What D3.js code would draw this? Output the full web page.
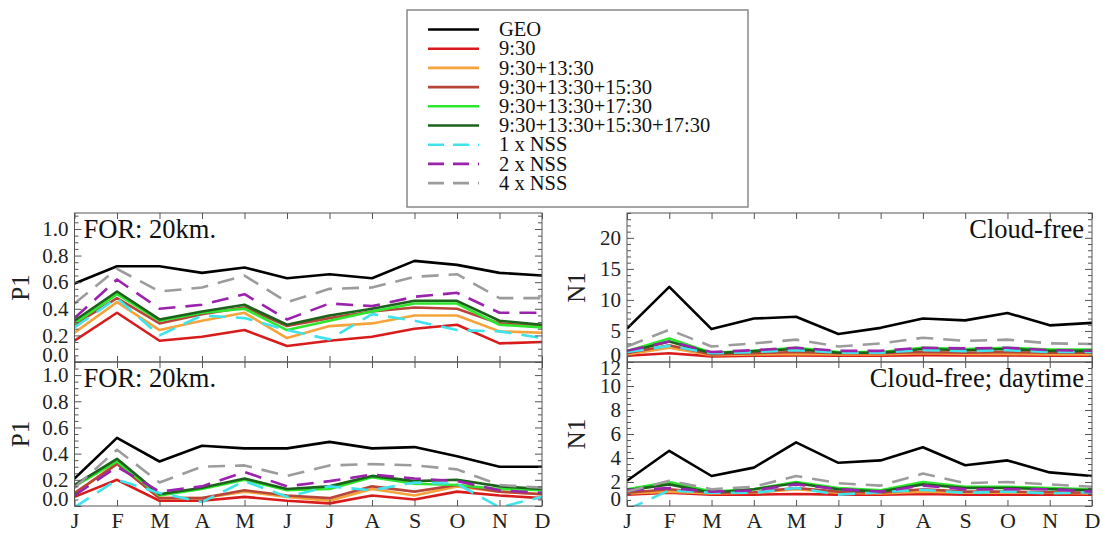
<!DOCTYPE html>
<html>
<head>
<meta charset="utf-8">
<script src="https://cdn.jsdelivr.net/npm/d3@7"></script>
<style>
  body { margin: 0; background: #fff; }
  svg { display: block; }
  svg text { font-family: "Liberation Serif", "DejaVu Serif", serif !important; }
</style>
</head>
<body>
<div id="chart"></div>
<script>
const months = ["J", "F", "M", "A", "M", "J", "J", "A", "S", "O", "N", "D"];
const seriesNames = ["GEO", "9:30", "9:30+13:30", "9:30+13:30+15:30", "9:30+13:30+17:30",
    "9:30+13:30+15:30+17:30", "1 x NSS", "2 x NSS", "4 x NSS"];

// P1, FOR 20km (top left)
const p1All = [
    [0.59, 0.72, 0.72, 0.67, 0.71, 0.63, 0.66, 0.63, 0.76, 0.73, 0.67, 0.65],
    [0.16, 0.37, 0.16, 0.19, 0.24, 0.12, 0.16, 0.19, 0.25, 0.28, 0.14, 0.15],
    [0.22, 0.45, 0.24, 0.31, 0.37, 0.18, 0.27, 0.29, 0.35, 0.35, 0.23, 0.22],
    [0.28, 0.48, 0.29, 0.36, 0.41, 0.27, 0.33, 0.38, 0.41, 0.40, 0.29, 0.27],
    [0.29, 0.51, 0.31, 0.37, 0.40, 0.24, 0.31, 0.38, 0.44, 0.44, 0.28, 0.26],
    [0.31, 0.53, 0.32, 0.38, 0.43, 0.28, 0.35, 0.40, 0.46, 0.46, 0.31, 0.28],
    [0.26, 0.48, 0.20, 0.35, 0.33, 0.24, 0.17, 0.36, 0.31, 0.24, 0.23, 0.18],
    [0.33, 0.62, 0.40, 0.43, 0.51, 0.32, 0.44, 0.42, 0.49, 0.52, 0.37, 0.37],
    [0.44, 0.70, 0.53, 0.56, 0.65, 0.45, 0.55, 0.56, 0.64, 0.66, 0.48, 0.48]
];

// P1, FOR 20km (bottom left)
const p1Day = [
    [0.21, 0.52, 0.34, 0.46, 0.44, 0.44, 0.49, 0.44, 0.45, 0.38, 0.30, 0.30],
    [0.07, 0.20, 0.04, 0.04, 0.07, 0.04, 0.02, 0.08, 0.05, 0.11, 0.08, 0.06],
    [0.09, 0.33, 0.06, 0.06, 0.11, 0.07, 0.04, 0.13, 0.08, 0.15, 0.11, 0.09],
    [0.10, 0.32, 0.06, 0.06, 0.12, 0.08, 0.06, 0.15, 0.11, 0.16, 0.11, 0.09],
    [0.15, 0.34, 0.08, 0.13, 0.20, 0.12, 0.13, 0.22, 0.17, 0.16, 0.13, 0.12],
    [0.16, 0.36, 0.09, 0.14, 0.21, 0.13, 0.15, 0.23, 0.19, 0.20, 0.15, 0.13],
    [-0.01, 0.20, 0.10, 0.03, 0.19, 0.07, 0.15, 0.12, 0.18, 0.17, -0.01, 0.07],
    [0.08, 0.30, 0.11, 0.15, 0.26, 0.15, 0.19, 0.24, 0.21, 0.19, 0.12, 0.10],
    [0.14, 0.43, 0.18, 0.30, 0.31, 0.23, 0.31, 0.32, 0.31, 0.28, 0.16, 0.14]
];

// N1, cloud-free (top right)
const n1All = [
    [5.4, 12.1, 5.3, 7.0, 7.3, 4.5, 5.5, 7.0, 6.7, 7.9, 5.9, 6.3],
    [1.0, 1.4, 0.9, 1.0, 1.05, 1.0, 1.0, 1.1, 1.05, 1.05, 1.0, 1.0],
    [1.2, 2.3, 1.1, 1.2, 1.3, 1.2, 1.2, 1.4, 1.3, 1.3, 1.2, 1.2],
    [1.4, 2.7, 1.2, 1.4, 1.6, 1.4, 1.4, 1.6, 1.5, 1.6, 1.5, 1.5],
    [1.75, 3.8, 1.5, 1.8, 2.3, 1.6, 1.6, 2.3, 2.1, 2.3, 2.0, 2.0],
    [1.6, 3.3, 1.4, 1.75, 2.1, 1.5, 1.5, 2.1, 1.9, 2.1, 1.8, 1.8],
    [1.6, 2.6, 1.4, 1.6, 1.9, 1.5, 1.5, 1.9, 1.75, 1.9, 1.6, 1.6],
    [1.8, 3.3, 1.6, 1.9, 2.3, 1.8, 1.8, 2.3, 2.2, 2.3, 1.9, 1.8],
    [2.5, 5.2, 2.5, 3.0, 3.6, 2.5, 3.0, 3.9, 3.4, 3.6, 3.0, 2.9]
];

// N1, cloud-free daytime (bottom right)
const n1Day = [
    [2.1, 4.6, 2.5, 3.2, 5.3, 3.6, 3.8, 4.9, 3.4, 3.8, 2.8, 2.5],
    [0.95, 1.1, 0.95, 0.95, 1.0, 0.95, 0.95, 1.0, 0.95, 0.95, 0.95, 0.95],
    [1.05, 1.2, 1.05, 1.1, 1.4, 1.1, 1.05, 1.2, 1.1, 1.1, 1.1, 1.05],
    [1.1, 1.4, 1.1, 1.15, 1.5, 1.2, 1.1, 1.4, 1.2, 1.2, 1.15, 1.1],
    [1.4, 2.0, 1.2, 1.4, 2.0, 1.5, 1.3, 2.0, 1.6, 1.6, 1.5, 1.4],
    [1.3, 1.8, 1.1, 1.4, 1.9, 1.4, 1.2, 1.8, 1.5, 1.5, 1.4, 1.3],
    [-0.3, 1.3, 1.1, 1.1, 1.5, 0.95, 1.15, 1.35, 1.1, 1.2, 1.05, 1.15],
    [1.3, 1.5, 1.2, 1.3, 1.8, 1.4, 1.2, 1.7, 1.4, 1.4, 1.4, 1.2],
    [1.2, 2.1, 1.4, 1.6, 2.5, 1.9, 1.7, 2.7, 1.9, 2.0, 1.8, 1.6]
];

const p1Ticks = [0, 0.2, 0.4, 0.6, 0.8, 1.0];
const n1AllTicks = [0, 5, 10, 15, 20];
const n1DayTicks = [0, 2, 4, 6, 8, 10, 12];

// line styles, in the same order as seriesNames
const colors = ["#000000", "#d81c1c", "#f5a33a", "#b8453a", "#2fe62f", "#1b621b", "#40e3ec", "#9b22ad", "#9c9c9c"];
const dashed = [false, false, false, false, false, false, true, true, true];

document.addEventListener("DOMContentLoaded", function () {
    const width = 1103, height = 535;
    const serif = '"Liberation Serif", "DejaVu Serif", serif';

    const svg = d3.select("#chart").append("svg")
        .attr("width", width)
        .attr("height", height)
        .attr("font-family", serif);

    const panels = [
        { id: "tl", data: p1All, x0: 74.5, x1: 542, y0: 213, y1: 362, domain: [0, 1.12], ticks: p1Ticks, minor: 0.05,
          fmt: d3.format(".1f"), title: "FOR: 20km.", anchor: "start", ylab: "P1", ylabX: 21, months: false },
        { id: "bl", data: p1Day, x0: 74.5, x1: 542, y0: 362, y1: 506, domain: [0, 1.1], ticks: p1Ticks, minor: 0.05,
          fmt: d3.format(".1f"), title: "FOR: 20km.", anchor: "start", ylab: "P1", ylabX: 21, months: true },
        { id: "tr", data: n1All, x0: 627, x1: 1092, y0: 213, y1: 362, domain: [0, 24], ticks: n1AllTicks, minor: 1,
          fmt: d3.format("d"), title: "Cloud-free", anchor: "end", ylab: "N1", ylabX: 577, months: false },
        { id: "br", data: n1Day, x0: 627, x1: 1092, y0: 362, y1: 506, domain: [0, 12], ticks: n1DayTicks, minor: 0.5,
          fmt: d3.format("d"), title: "Cloud-free; daytime", anchor: "end", ylab: "N1", ylabX: 577, months: true }
    ];

    panels.forEach(p => {
        const x = d3.scaleLinear().domain([0, 11]).range([p.x0, p.x1]);
        const y = d3.scaleLinear().domain(p.domain).range([p.y1, p.y0]);
        const minorTicks = d3.range(p.domain[0], p.domain[1] + 1e-9, p.minor)
            .filter(v => !p.ticks.some(t => Math.abs(t - v) < 1e-9));

        const g = svg.append("g").attr("class", "panel-" + p.id);

        g.append("clipPath").attr("id", "clip-" + p.id)
            .append("rect")
            .attr("x", p.x0).attr("y", p.y0)
            .attr("width", p.x1 - p.x0).attr("height", p.y1 - p.y0);

        // lines
        const line = d3.line().x((d, i) => x(i)).y(d => y(d));
        g.append("g").attr("clip-path", `url(#clip-${p.id})`)
            .selectAll("path")
            .data(p.data)
            .enter()
            .append("path")
            .attr("d", line)
            .attr("fill", "none")
            .attr("stroke", (d, i) => colors[i])
            .attr("stroke-width", 2.6)
            .attr("stroke-linejoin", "round")
            .attr("stroke-dasharray", (d, i) => dashed[i] ? "17,10" : null);

        // y axis left, major + labels (edge labels pushed inside the frame)
        const clampY = v => Math.min(Math.max(y(v), p.y0 + 6), p.y1 - 7) - y(v);
        const yl = g.append("g").attr("transform", `translate(${p.x0},0)`)
            .call(d3.axisLeft(y).tickValues(p.ticks).tickSize(-7).tickPadding(6).tickFormat(p.fmt));
        yl.selectAll("text").attr("y", d => clampY(d))
            .style("font-family", serif).style("font-size", "21px").attr("fill", "#222");
        g.append("g").attr("transform", `translate(${p.x0},0)`)
            .call(d3.axisLeft(y).tickValues(minorTicks).tickSize(-4).tickFormat(""));

        // y axis right
        g.append("g").attr("transform", `translate(${p.x1},0)`)
            .call(d3.axisRight(y).tickValues(p.ticks).tickSize(-7).tickFormat(""));
        g.append("g").attr("transform", `translate(${p.x1},0)`)
            .call(d3.axisRight(y).tickValues(minorTicks).tickSize(-4).tickFormat(""));

        // x axes
        const xb = g.append("g").attr("transform", `translate(0,${p.y1})`)
            .call(d3.axisBottom(x).tickValues(d3.range(12)).tickSize(-6).tickPadding(6)
                .tickFormat(i => p.months ? months[i] : ""));
        xb.selectAll("text").style("font-family", serif).style("font-size", "22px").attr("fill", "#222");
        g.append("g").attr("transform", `translate(0,${p.y0})`)
            .call(d3.axisTop(x).tickValues(d3.range(12)).tickSize(-6).tickFormat(""));

        g.selectAll(".domain").remove();
        g.selectAll(".tick line").attr("stroke", "#555");

        // frame
        g.append("rect")
            .attr("x", p.x0).attr("y", p.y0)
            .attr("width", p.x1 - p.x0).attr("height", p.y1 - p.y0)
            .attr("fill", "none")
            .attr("stroke", "#555")
            .attr("stroke-width", 1);

        // panel title
        g.append("text")
            .attr("x", p.anchor === "start" ? p.x0 + 9 : p.x1 - 8)
            .attr("y", p.y0 + 25)
            .attr("text-anchor", p.anchor)
            .style("font-size", "26.5px")
            .attr("fill", "#111")
            .text(p.title);

        // y label
        g.append("text")
            .attr("transform", `translate(${p.ylabX + 8},${(p.y0 + p.y1) / 2}) rotate(-90)`)
            .attr("text-anchor", "middle")
            .style("font-size", "25px")
            .attr("fill", "#222")
            .text(p.ylab);
    });

    // legend
    const legend = svg.append("g").attr("class", "legend");
    legend.append("rect")
        .attr("x", 407).attr("y", 10)
        .attr("width", 341).attr("height", 197)
        .attr("fill", "#fff")
        .attr("stroke", "#888")
        .attr("stroke-width", 1.5);

    const rows = legend.selectAll(".row")
        .data(seriesNames)
        .enter()
        .append("g")
        .attr("class", "row")
        .attr("transform", (d, i) => `translate(0,${29.5 + i * 19.2})`);

    rows.append("line")
        .attr("x1", 428).attr("x2", 479)
        .attr("stroke", (d, i) => colors[i])
        .attr("stroke-width", 2.6)
        .attr("stroke-dasharray", (d, i) => dashed[i] ? "16,9" : null);

    rows.append("text")
        .attr("x", 499)
        .attr("dy", "0.33em")
        .style("font-size", "20.5px")
        .attr("fill", "#111")
        .text(d => d);
});
</script>
</body>
</html>
